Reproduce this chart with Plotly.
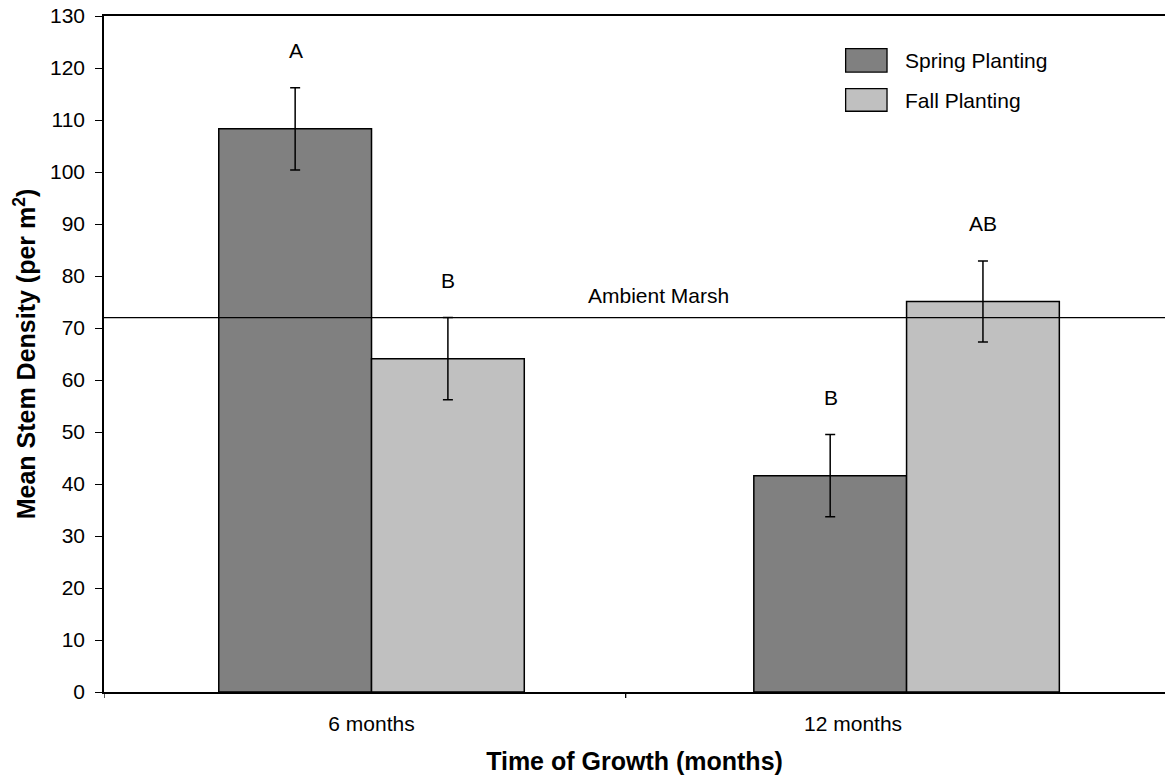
import plotly.graph_objects as go

# ---- data ----
categories = ["6 months", "12 months"]
series_names = ["Spring Planting", "Fall Planting"]
spring_mean = [108.3, 41.6]
spring_se = [7.9, 7.9]
fall_mean = [64.1, 75.1]
fall_se = [7.9, 7.8]
spring_letters = ["A", "B"]
fall_letters = ["B", "AB"]
ambient_marsh = 72
ambient_label = "Ambient Marsh"
y_ticks = list(range(0, 131, 10))

FONT = "Liberation Sans, Arial, sans-serif"
SPRING_COLOR = "#808080"
FALL_COLOR = "#C0C0C0"
XRANGE = [-0.5, 1.483]
FS = 21

fig = go.Figure()
for name, means, ses, color in [
    (series_names[0], spring_mean, spring_se, SPRING_COLOR),
    (series_names[1], fall_mean, fall_se, FALL_COLOR),
]:
    fig.add_trace(go.Bar(
        x=categories, y=means, name=name,
        marker=dict(color=color, line=dict(color="black", width=1.5)),
        error_y=dict(type="data", array=ses, visible=True,
                     color="black", thickness=1.5, width=5),
        showlegend=False,
    ))

# significance letters above error bars
for letters, means, ses, shift in [(spring_letters, spring_mean, spring_se, -76),
                                   (fall_letters, fall_mean, fall_se, 76)]:
    for cat, lab, m, s in zip(categories, letters, means, ses):
        fig.add_annotation(x=cat, y=m + s, xref="x", yref="y", text=lab,
                           showarrow=False, xshift=shift, yshift=37,
                           yanchor="middle", font=dict(size=FS, color="black", family=FONT))

# ambient marsh reference line
fig.add_shape(type="line", xref="paper", yref="y", x0=0, x1=1,
              y0=ambient_marsh, y1=ambient_marsh, line=dict(color="black", width=1.3))
fig.add_annotation(x=0.536, y=ambient_marsh, xref="x2", yref="y", text=ambient_label,
                   showarrow=False, yanchor="middle", yshift=22,
                   font=dict(size=FS, color="black", family=FONT))

# category divider tick marks below the x axis
for xv in [-0.5, 0.475]:
    fig.add_shape(type="line", xref="x2", yref="paper", ysizemode="pixel", yanchor=0,
                  x0=xv, x1=xv, y0=0, y1=-6, line=dict(color="black", width=1.3))

# manual legend (large swatches as in the reference)
legend_rows = [(series_names[0], SPRING_COLOR, 0.9516, 0.9170, 0.934),
               (series_names[1], FALL_COLOR, 0.8927, 0.8591, 0.8753)]
for name, color, y0, y1, yt in legend_rows:
    fig.add_shape(type="rect", xref="paper", yref="paper", x0=0.699, x1=0.738,
                  y0=y1, y1=y0, fillcolor=color, line=dict(color="black", width=1.3))
    fig.add_annotation(x=0.753, y=yt, xref="paper", yref="paper", text=name,
                       showarrow=False, xanchor="left", yanchor="middle",
                       font=dict(size=FS, color="black", family=FONT))

fig.update_layout(
    width=1165, height=780,
    margin=dict(l=104, r=0, t=16, b=88, autoexpand=False),
    paper_bgcolor="white", plot_bgcolor="white",
    font=dict(family=FONT, size=FS, color="black"),
    barmode="group", bargap=0.429, bargroupgap=0,
    xaxis=dict(type="category", range=XRANGE, showticklabels=False, ticks="",
               showline=True, linecolor="black", linewidth=1.5, mirror=True,
               showgrid=False, zeroline=False, automargin=False),
    xaxis2=dict(overlaying="x", anchor="y", side="bottom", type="linear", range=XRANGE,
                tickmode="array", tickvals=[0, 0.9], ticktext=categories, ticks="",
                ticklabelstandoff=17,
                showline=False, showgrid=False, zeroline=False, automargin=False,
                tickfont=dict(size=FS, family=FONT, color="black"),
                title=dict(text="<b>Time of Growth (months)</b>", standoff=18,
                           font=dict(size=25, family=FONT, color="black"))),
    yaxis=dict(range=[0, 130], tickmode="array", tickvals=y_ticks,
               ticks="outside", ticklen=7, tickwidth=1.3, tickcolor="black",
               ticklabelstandoff=6,
               showline=True, linecolor="black", linewidth=1.5,
               showgrid=False, zeroline=False, automargin=False,
               tickfont=dict(size=FS, family=FONT, color="black"),
               title=dict(text="<b>Mean Stem Density (per m<sup>2</sup>)</b>", standoff=7,
                          font=dict(size=25, family=FONT, color="black"))),
)
# remove the browser's default 8px body margin so the figure fills the window
fig.write_html("out.html", config={"displayModeBar": False},
               post_script="document.body.style.margin='0';")
